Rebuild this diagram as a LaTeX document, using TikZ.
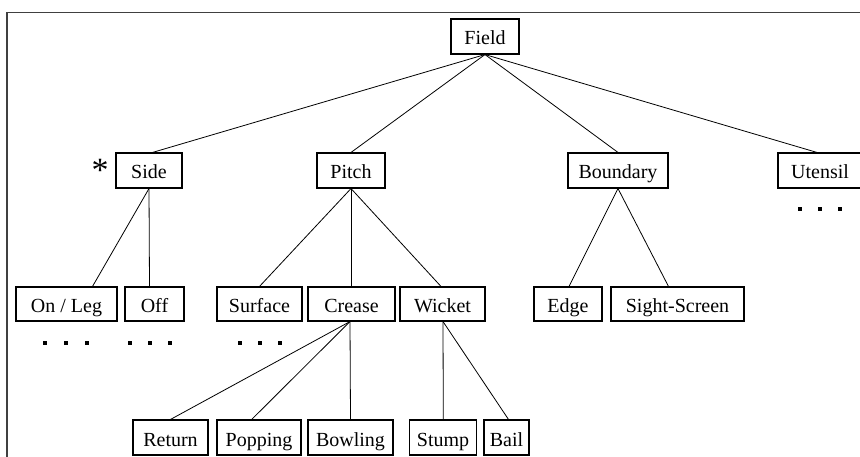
\documentclass[tikz,border=0pt]{standalone}
\usepackage{fontspec}
\setmainfont{Liberation Serif}
\begin{document}
\begin{tikzpicture}[x=1pt,y=-1pt,
  box/.style={draw, line width=1.1pt, inner sep=0pt, minimum height=35pt, text height=17pt, text depth=0pt, font=\fontsize{20}{20}\selectfont},
  link/.style={line width=0.8pt},
  dotsq/.style={fill=black}]
\useasboundingbox (0,0) rectangle (860,457);
\clip (0,0) rectangle (860,457);
% frame
\draw[line width=1.6pt, black!75] (7,470) -- (7,12.5) -- (870,12.5);
% level 0
\node[box, minimum width=68pt] (field) at (485,36.5) {Field};
% level 1
\node[box, minimum width=66pt] (side) at (149,170.5) {Side};
\node[box, minimum width=68pt] (pitch) at (351,170.5) {Pitch};
\node[box, minimum width=100pt] (boundary) at (618,170.5) {Boundary};
\node[box, minimum width=84pt] (utensil) at (820,170.5) {Utensil};
\node[inner sep=0pt, font=\fontsize{34}{34}\selectfont] (ast) at (100,170) {*};
% level 2
\node[box, minimum width=101pt, minimum height=34pt] (onleg) at (66.5,304) {On / Leg};
\node[box, minimum width=59pt, minimum height=34pt] (off) at (154.5,304) {Off};
\node[box, minimum width=85pt, minimum height=34pt] (surface) at (259.5,304) {Surface};
\node[box, minimum width=87pt, minimum height=34pt] (crease) at (351.5,304) {Crease};
\node[box, minimum width=85pt, minimum height=34pt] (wicket) at (442.5,304) {Wicket};
\node[box, minimum width=68pt, minimum height=34pt] (edge) at (568,304) {Edge};
\node[box, minimum width=133pt, minimum height=34pt] (sight) at (677.5,304) {Sight-Screen};
% level 3
\node[box, minimum width=75pt] (return) at (170.5,437.5) {Return};
\node[box, minimum width=84pt] (popping) at (259,437.5) {Popping};
\node[box, minimum width=85pt] (bowling) at (350.5,437.5) {Bowling};
\node[box, minimum width=67pt] (stump) at (443,437.5) {Stump};
\node[box, minimum width=45pt] (bail) at (506.5,437.5) {Bail};
% connectors
\draw[link] (field.south) -- ([xshift=3.5pt]side.north);
\draw[link] (field.south) -- (pitch.north);
\draw[link] (field.south) -- (boundary.north);
\draw[link] (field.south) -- ([xshift=-3pt]utensil.north);
\draw[link] (side.south) -- ([xshift=26pt]onleg.north);
\draw[link] (side.south) -- ([xshift=-5pt]off.north);
\draw[link] (pitch.south) -- (surface.north);
\draw[link] (pitch.south) -- ([xshift=-0.5pt]crease.north);
\draw[link] (pitch.south) -- ([xshift=-1.5pt]wicket.north);
\draw[link] ([xshift=-1.5pt]crease.south) -- (return.north);
\draw[link] ([xshift=-1.5pt]crease.south) -- ([xshift=-7.3pt]popping.north);
\draw[link] ([xshift=-1.5pt]crease.south) -- (bowling.north);
\draw[link] ([xshift=0.5pt]wicket.south) -- ([xshift=0.3pt]stump.north);
\draw[link] ([xshift=0.5pt]wicket.south) -- ([xshift=2pt]bail.north);
\draw[link] (boundary.south) -- ([xshift=1pt]edge.north);
\draw[link] (boundary.south) -- ([xshift=-9pt]sight.north);
% ellipsis dots
\foreach \x in {45,65.7,86.7,130,150,170,240,260,280}
  \fill[dotsq] (\x-1.8,343-1.8) rectangle (\x+1.8,343+1.8);
\foreach \x in {800,820,840}
  \fill[dotsq] (\x-1.8,209.3-1.8) rectangle (\x+1.8,209.3+1.8);
\end{tikzpicture}
\end{document}
